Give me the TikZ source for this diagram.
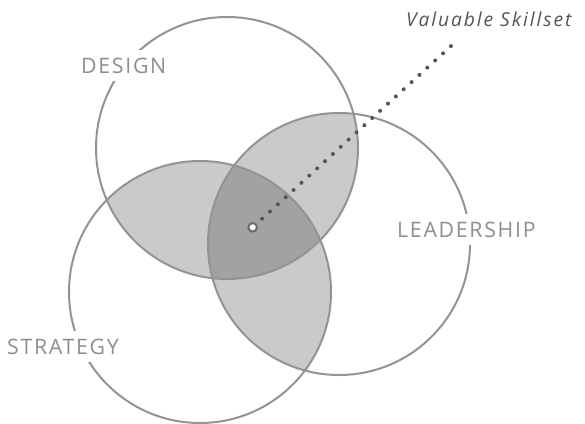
\documentclass[tikz,border=0pt]{standalone}
\usepackage{fontspec}
\setmainfont{Open Sans}
\newfontfamily\labelfont[LetterSpace=8]{Open Sans}
\newfontfamily\titlefont[LetterSpace=10]{Open Sans Italic}
\usetikzlibrary{calc}
\definecolor{ringgray}{HTML}{939396}
\definecolor{pairgray}{HTML}{C9CACC}
\definecolor{triplegray}{HTML}{A2A2A4}
\definecolor{labelgray}{HTML}{8E8E8E}
\definecolor{dotgray}{HTML}{555557}
\definecolor{hubgray}{HTML}{6B6B6D}
\tikzset{
  ringline/.style={draw=ringgray, line width=2pt},
  setlabel/.style={anchor=base west, fill=white, inner xsep=2pt, inner ysep=8pt,
    text=labelgray, font=\labelfont\fontsize{21.3}{25}\selectfont},
  titlelabel/.style={anchor=base west, inner sep=0pt, text=dotgray,
    font=\titlefont\fontsize{19.2}{23}\selectfont},
  dotline/.style={draw=dotgray, line width=4pt, line cap=round, dash pattern=on 0pt off 10.66pt},
  hubdot/.style={circle, fill=white, draw=hubgray, line width=2pt, minimum size=8.6pt, inner sep=0pt}
}
\begin{document}
\begin{tikzpicture}[x=1pt,y=-1pt]
\useasboundingbox (0,0) rectangle (585,423);
\coordinate (cd) at (227,148);
\coordinate (cl) at (339,244);
\coordinate (cs) at (200,292);
% pairwise overlaps
\begin{scope}
  \clip (cd) circle (131);
  \fill[pairgray] (cl) circle (131);
  \fill[pairgray] (cs) circle (131);
\end{scope}
\begin{scope}
  \clip (cl) circle (131);
  \fill[pairgray] (cs) circle (131);
\end{scope}
% triple overlap
\begin{scope}
  \clip (cd) circle (131);
  \clip (cl) circle (131);
  \fill[triplegray] (cs) circle (131);
\end{scope}
% outlines
\draw[ringline] (cd) circle (131);
\draw[ringline] (cl) circle (131);
\draw[ringline] (cs) circle (131);
% labels
\node[setlabel] (design) at (79,73) {DESIGN};
\node[setlabel] (leadership) at (395,237) {LEADERSHIP};
\node[setlabel] (strategy) at (5,354) {STRATEGY};
\node[titlelabel] (title) at (406,26) {Valuable Skillset};
% pointer
\node[hubdot] (hub) at (252.7,227.3) {};
\coordinate (lineend) at (451,46);
\draw[dotline] ($(hub.center)!12.7pt!(lineend)$) -- (lineend);
\end{tikzpicture}
\end{document}
